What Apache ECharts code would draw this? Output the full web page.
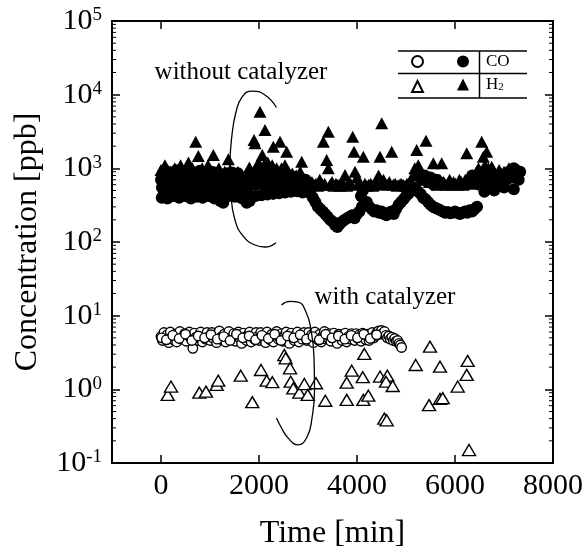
<!DOCTYPE html>
<html>
<head>
<meta charset="utf-8">
<script src="https://cdn.jsdelivr.net/npm/echarts@6/dist/echarts.min.js"></script>
<style>
  html, body { margin: 0; padding: 0; background: #fff; }
  #chart { width: 587px; height: 551px; }
</style>
</head>
<body>
<div id="chart"></div>
<script>
const FONT = 'Liberation Serif';

// x axis ticks / labels
const xTickVals = [0, 2000, 4000, 6000];
const xLabelVals = [0, 2000, 4000, 6000, 8000];

// minor ticks of the log axis
const yMinorVals = [0.2, 0.3, 0.4, 0.5, 0.6, 0.7, 0.8, 0.9,
  2, 3, 4, 5, 6, 7, 8, 9,
  20, 30, 40, 50, 60, 70, 80, 90,
  200, 300, 400, 500, 600, 700, 800, 900,
  2000, 3000, 4000, 5000, 6000, 7000, 8000, 9000,
  20000, 30000, 40000, 50000, 60000, 70000, 80000, 90000];

// CO, without catalyzer (filled circles)  [time min, ppb]
const coWithout = [
  [0,700],[20,550],[40,850],[60,480],[90,650],[110,900],[140,520],[170,750],[200,600],[230,450],
  [260,800],[290,650],[320,520],[350,700],[380,900],[410,600],[440,480],[470,700],[500,550],[530,800],
  [560,620],[590,450],[620,700],[650,580],[680,750],[710,520],[740,650],[770,850],[800,600],[830,700],
  [860,480],[890,620],[920,750],[950,550],[980,680],[1010,820],[1040,600],[1070,700],[1100,520],[1130,650],
  [1160,780],[1190,580],[1220,680],[1250,450],[1280,400],[1310,550],[1340,700],[1370,620],[1400,750],[1430,580],
  [1460,680],[1490,620],[1520,720],[1550,580],[1580,650],[1610,700],[1640,550],[1670,620],[1700,480],[1730,420],
  [1760,380],[1790,450],[1820,600],[1850,700],[1880,650],[1910,750],[1940,600],[1970,680],[2000,800],[2030,650],
  [2060,720],[2090,600],[2120,680],[2150,750],[2180,620],[2210,700],[2240,580],[2270,650],[2300,720],[2330,600],
  [2360,680],[2390,640],[2420,700],[2450,600],[2480,650],[2510,700],[2540,620],[2570,680],[2600,650],[2630,600],
  [2660,640],[2690,620],[2720,660],[2750,600],[2780,640],[2810,580],[2840,620],[2870,600],[2900,560],[2930,600],
  [15,400],[75,950],[130,390],[190,880],[250,420],[310,940],[370,400],[430,870],[490,420],[550,920],
  [610,390],[670,880],[730,410],[790,930],[850,400],[910,860],[970,420],[1030,900],[1090,390],[1150,870],
  [1210,360],[1270,340],[1330,860],[1390,420],[1450,880],[1510,410],[1570,860],[1630,400],[1690,380],[1750,340],
  [1810,360],[1870,850],[1930,420],[1990,880],[2050,430],[2110,860],[2170,440],[2230,840],[2290,450],[2350,820],
  [2410,460],[2470,800],[2530,470],[2590,790],[2650,480],[2710,770],[2770,490],[2830,750],[2890,470],[2950,700],
  [2960,580],[3000,500],[3050,450],[3100,400],[3150,350],[3200,300],[3250,280],[3300,260],[3350,240],[3400,220],
  [3450,200],[3500,190],[3550,170],[3600,160],[3650,175],[3700,190],[3750,200],[3800,210],[3850,220],[3900,230],
  [3950,210],[4000,240],[4050,260],[4080,420],[4100,300],[4120,500],[4150,330],[4200,350],[4250,300],[4300,280],
  [4350,260],[4400,270],[4450,250],[4500,260],[4550,240],[4600,230],[4650,250],[4700,260],[4750,240],[4800,280],
  [4850,320],[4900,350],[4950,380],[5000,420],[5050,450],[5100,500],[5150,550],[5200,520],[5250,480],[5300,450],
  [5350,400],[5400,380],[5450,350],[5500,320],[5550,300],[5600,290],[5650,280],[5700,270],[5750,260],[5800,250],
  [5850,255],[5900,245],[5950,250],[6000,260],[6050,250],[6100,240],[6150,250],[6200,260],[6250,250],[6300,270],
  [6350,260],[6400,280],[6450,300],[5320,700],[5380,800],[5440,650],[5500,750],[5560,600],[5620,700],[5680,650],
  [6300,700],[6350,800],[6420,650],[6500,600],[6550,800],[6600,700],[6650,900],[6700,650],[6750,800],[6800,700],
  [6850,600],[6900,750],[6950,650],[7000,800],[7050,700],[7100,900],[7150,750],[7200,1000],[7250,850],[7300,700],
  [7330,900],[6600,480],[6800,500],[7000,550],[7200,520]
];

// H2, without catalyzer (filled triangles)
const h2Without = [
  [0,950],[40,800],[80,1100],[120,850],[160,700],[200,900],[240,750],[280,1000],[320,850],[360,700],
  [400,1100],[440,800],[480,650],[520,950],[560,1200],[600,800],[640,1000],[680,700],[708,2300],[730,900],
  [762,1470],[800,850],[840,1000],[880,750],[920,900],[960,1100],[1000,800],[1040,700],[1068,1520],[1100,900],
  [1140,750],[1180,1000],[1220,850],[1260,700],[1300,900],[1340,800],[1374,1330],[1410,950],[1450,700],[1490,850],
  [1530,750],[1570,900],[1610,700],[1650,800],[1690,650],[1730,750],[1770,850],[1803,1030],[1840,800],[1870,700],
  [1898,2430],[1918,2190],[1950,900],[1990,1200],[2020,5870],[2050,1000],[2067,1520],[2100,1100],[2122,3310],[2150,900],
  [2180,1200],[2210,1000],[2240,850],[2270,1100],[2292,1970],[2320,900],[2360,1000],[2400,800],[2429,2300],[2460,1000],
  [2500,850],[2530,1100],[2565,1680],[2600,900],[2640,750],[2680,850],[2720,700],[2760,800],[2800,650],[2840,900],
  [2871,1230],[2900,700],[2950,650],[3000,620],[3040,580],[3080,650],[3120,600],[3160,620],[3200,580],[3240,700],
  [3280,600],[3313,2300],[3340,620],[3381,1300],[3415,3140],[3415,1000],[3450,600],[3490,650],[3530,580],[3570,620],
  [3610,600],[3650,580],[3690,620],[3730,600],[3755,810],[3790,580],[3830,600],[3870,620],[3912,2690],[3939,1680],
  [3960,900],[4000,750],[4040,650],[4080,600],[4129,1440],[4160,620],[4200,580],[4240,600],[4280,620],[4320,580],
  [4360,600],[4400,620],[4440,800],[4470,1440],[4504,4080],[4540,700],[4580,620],[4620,600],[4660,650],[4708,1680],
  [4740,600],[4780,620],[4820,580],[4860,600],[4900,620],[4940,600],[4980,580],[5020,620],[5060,600],[5100,650],
  [5140,800],[5180,1000],[5218,1770],[5250,1100],[5280,900],[5320,800],[5360,700],[5408,2370],[5440,750],[5480,650],
  [5520,700],[5558,1170],[5600,650],[5640,600],[5690,700],[5728,1170],[5770,650],[5810,600],[5850,620],[5890,700],
  [5930,600],[5970,650],[6010,620],[6050,600],[6090,700],[6130,650],[6170,600],[6210,700],[6239,1600],[6280,650],
  [6320,620],[6360,700],[6400,800],[6440,900],[6480,1000],[6545,2300],[6578,1440],[6610,1100],[6647,1680],[6680,1000],
  [6749,1050],[6800,900],[6850,800],[6900,950],[6950,850],[7000,900],[7050,800],[7100,1000],[7150,850],[7200,900],
  [7250,800],[7300,950]
];

// CO, with catalyzer (open circles)
const coWith = [
  [0,5.2],[30,4.6],[60,5.9],[95,4.9],[125,5.5],[160,4.3],[190,6.0],[225,5.1],[255,4.7],[290,5.6],
  [320,4.4],[355,5.3],[385,6.1],[420,4.8],[450,5.0],[485,5.7],[515,4.5],[550,5.4],[580,6.0],[615,4.9],
  [650,3.6],[680,5.8],[715,5.1],[745,4.6],[780,5.5],[810,6.0],[845,4.4],[875,5.2],[910,4.8],[940,5.9],
  [975,5.2],[1005,4.6],[1040,5.9],[1070,4.9],[1105,5.5],[1135,4.3],[1170,5.6],[1190,6.2],[1225,5.1],[1255,4.7],
  [1290,5.6],[1320,4.4],[1355,5.3],[1385,6.1],[1420,4.8],[1450,5.0],[1485,5.7],[1515,4.5],[1550,5.4],[1580,6.0],
  [1615,4.9],[1645,4.2],[1680,5.8],[1710,5.1],[1745,4.6],[1775,5.5],[1810,6.0],[1840,4.4],[1875,5.2],[1905,4.8],
  [1940,5.9],[1970,5.2],[2005,4.6],[2035,5.9],[2070,4.9],[2100,5.5],[2135,4.3],[2165,6.0],[2200,5.1],[2230,4.7],
  [2265,5.6],[2295,4.4],[2330,5.3],[2360,6.1],[2395,4.8],[2425,5.0],[2460,5.7],[2490,4.5],[2525,5.4],[2555,6.0],
  [2590,4.9],[2620,4.2],[2655,5.8],[2685,5.1],[2720,4.6],[2750,5.5],[2785,6.0],[2815,4.4],[2850,5.2],[2880,4.8],
  [2915,5.9],[2945,5.2],[2980,4.6],[3010,5.9],[3045,4.9],[3075,5.5],[3110,4.3],[3140,6.0],[3175,5.1],[3205,4.7],
  [3240,5.6],[3270,4.4],[3305,5.3],[3335,6.1],[3370,4.8],[3400,5.0],[3435,5.7],[3465,4.5],[3500,5.4],[3530,5.8],
  [3565,4.9],[3595,4.2],[3630,5.6],[3660,5.1],[3695,4.6],[3725,5.5],[3760,5.8],[3790,4.4],[3825,5.2],[3855,4.8],
  [3890,5.7],[3920,5.2],[3955,4.6],[3985,5.7],[4020,4.9],[4050,5.5],[4085,4.5],[4115,5.8],[4150,5.1],[4180,4.7],
  [4215,5.6],[4245,4.6],[4280,5.3],[4310,5.9],[4345,5.0],[4375,5.4],[4410,5.9],[4440,6.2],[4470,5.6],[4500,6.3],
  [4530,5.8],[4560,6.1],[4590,5.4],[4620,5.0],[4650,5.3],[4680,4.8],[4710,5.1],[4740,4.6],[4770,4.9],[4800,4.5],
  [4830,4.6],[4860,4.2],[4885,4.0],[4910,3.7],
  [15,5.0],[110,4.7],[240,5.4],[370,4.9],[500,5.6],[630,4.6],[760,5.3],[890,5.0],[1020,5.5],[1150,4.8],
  [1280,5.2],[1410,4.6],[1540,5.6],[1670,5.0],[1800,5.3],[1930,4.7],[2060,5.4],[2190,4.9],[2320,5.6],[2450,4.6],
  [2580,5.3],[2710,5.0],[2840,5.5],[2970,4.8],[3100,5.2],[3230,4.7],[3360,5.6],[3490,5.0],[3620,5.3],[3750,4.8],
  [3880,5.4],[4010,5.0],[4140,5.6],[4270,4.9],[4400,5.5]
];

// H2, with catalyzer (open triangles)
const h2With = [
  [137,0.84],[204,1.09],[782,0.90],[918,0.93],[1137,1.15],[1169,1.31],[1627,1.53],[1863,0.67],[2041,1.83],[2157,1.31],
  [2272,1.25],[2517,2.92],[2545,2.64],[2633,1.93],[2647,1.27],[2700,1.03],[2823,0.90],[2925,1.18],[2994,0.84],[3163,1.21],
  [3353,0.70],[3790,0.72],[3790,1.23],[3892,1.79],[4117,1.46],[4129,0.72],[4149,3.02],[4231,0.82],[4470,1.49],[4557,0.40],
  [4606,0.38],[4619,1.53],[4592,1.27],[4729,1.11],[5198,2.14],[5490,3.79],[5470,0.61],[5694,2.03],[5694,0.74],[5749,0.76],
  [6055,1.09],[6239,1.57],[6259,2.43],[6286,0.15]
];

// hand-drawn brackets
const curveWithout = [[2357,6700],[2122,9910],[1857,11200],[1653,9290],[1531,5820],[1449,2840],[1408,1110],
  [1429,434],[1510,199],[1673,121],[1918,91],[2122,85.5],[2347,98]];
const curveWith = [[2459,13.97],[2633,15.6],[2796,15.3],[2959,11.2],[3061,6.4],[3122,2.75],[3133,0.98],
  [3082,0.41],[2980,0.225],[2796,0.176],[2592,0.219],[2449,0.308],[2357,0.408]];

const chart = echarts.init(document.getElementById('chart'));

const axisLine = { show: true, onZero: false, lineStyle: { color: '#000', width: 2 } };
const openStyle = { color: '#fff', borderColor: '#000', borderWidth: 1.4, opacity: 1 };
const solidStyle = { color: '#000', opacity: 1 };

const option = {
  animation: false,
  grid: { left: 112, right: 34, top: 21, bottom: 88, containLabel: false, outerBoundsMode: 'none' },
  xAxis: [
    {
      type: 'value', min: -1000, max: 8000, position: 'bottom',
      axisLine: axisLine,
      axisTick: { inside: true, length: 8, customValues: xTickVals, lineStyle: { color: '#000', width: 1.5 } },
      axisLabel: {
        customValues: xLabelVals, fontSize: 30, fontFamily: FONT, color: '#000', margin: 8,
        formatter: function (v) { return String(v); }
      },
      splitLine: { show: false },
      name: 'Time [min]', nameLocation: 'middle', nameGap: 55,
      nameTextStyle: { fontSize: 32, fontFamily: FONT, color: '#000' }
    },
    {
      type: 'value', min: -1000, max: 8000, position: 'top',
      axisLine: axisLine,
      axisTick: { inside: true, length: 8, customValues: xTickVals, lineStyle: { color: '#000', width: 1.5 } },
      axisLabel: { show: false },
      splitLine: { show: false }
    }
  ],
  yAxis: [
    {
      type: 'log', logBase: 10, min: 0.1, max: 100000, splitNumber: 6,
      axisLine: axisLine,
      axisTick: { inside: true, length: 8, lineStyle: { color: '#000', width: 1.5 } },
      axisLabel: {
        margin: 10,
        formatter: function (v) {
          const e = Math.round(Math.log10(v));
          return '{b|10}{e|' + e + '}';
        },
        rich: {
          b: { fontSize: 30, fontFamily: FONT, color: '#000' },
          e: { fontSize: 19, fontFamily: FONT, color: '#000', verticalAlign: 'top' }
        }
      },
      splitLine: { show: false },
      name: 'Concentration [ppb]', nameLocation: 'middle', nameGap: 68,
      nameTextStyle: { fontSize: 32, fontFamily: FONT, color: '#000' }
    },
    {
      type: 'log', logBase: 10, min: 0.1, max: 100000, splitNumber: 6, position: 'right',
      axisLine: axisLine,
      axisTick: { inside: true, length: 8, lineStyle: { color: '#000', width: 1.5 } },
      axisLabel: { show: false },
      splitLine: { show: false }
    }
  ],
  legend: [
    {
      data: ['CO with catalyzer', 'H2 with catalyzer'],
      orient: 'vertical', left: 411, top: 55, padding: 0,
      itemWidth: 11, itemHeight: 11, itemGap: 12, selectedMode: false,
      formatter: function () { return ''; },
      textStyle: { fontSize: 11, lineHeight: 11 }
    },
    {
      data: ['CO without catalyzer', 'H2 without catalyzer'],
      orient: 'vertical', left: 457, top: 53, padding: 0,
      itemWidth: 12, itemHeight: 12, itemGap: 6, selectedMode: false,
      formatter: function (name) {
        return name.indexOf('CO') === 0 ? '{h|CO}' : '{h|H}{s|2}';
      },
      textStyle: {
        fontSize: 17, fontFamily: FONT, color: '#000', padding: [0, 0, 0, 12],
        rich: {
          h: { fontSize: 17, fontFamily: FONT, color: '#000', lineHeight: 17 },
          s: { fontSize: 11, fontFamily: FONT, color: '#000', lineHeight: 11, verticalAlign: 'bottom' }
        }
      }
    }
  ],
  graphic: [
    { type: 'line', shape: { x1: 398, y1: 51, x2: 527, y2: 51 }, style: { stroke: '#000', lineWidth: 1.5 } },
    { type: 'line', shape: { x1: 398, y1: 73.5, x2: 527, y2: 73.5 }, style: { stroke: '#000', lineWidth: 1.5 } },
    { type: 'line', shape: { x1: 398, y1: 98, x2: 527, y2: 98 }, style: { stroke: '#000', lineWidth: 1.5 } },
    { type: 'line', shape: { x1: 479.5, y1: 51, x2: 479.5, y2: 98 }, style: { stroke: '#000', lineWidth: 1.5 } },
    {
      type: 'text', x: 241, y: 72,
      style: { text: 'without catalyzer', font: '25px "Liberation Serif"', fill: '#000', align: 'center', verticalAlign: 'middle' }
    },
    {
      type: 'text', x: 385, y: 297,
      style: { text: 'with catalyzer', font: '25px "Liberation Serif"', fill: '#000', align: 'center', verticalAlign: 'middle' }
    }
  ],
  series: [
    {
      name: 'minor ticks', type: 'custom', silent: true, clip: false,
      data: yMinorVals.map(function (v) { return [-1000, v]; }),
      encode: { x: 0, y: 1 },
      renderItem: function (params, api) {
        const v = api.value(1);
        const l = api.coord([-1000, v]);
        const r = api.coord([8000, v]);
        return {
          type: 'group',
          children: [
            { type: 'line', shape: { x1: l[0], y1: l[1], x2: l[0] + 4, y2: l[1] }, style: { stroke: '#000', lineWidth: 1 } },
            { type: 'line', shape: { x1: r[0] - 4, y1: r[1], x2: r[0], y2: r[1] }, style: { stroke: '#000', lineWidth: 1 } }
          ]
        };
      }
    },
    {
      name: 'H2 without catalyzer', type: 'scatter', data: h2Without,
      symbol: 'triangle', symbolSize: [13, 12], itemStyle: solidStyle
    },
    {
      name: 'CO without catalyzer', type: 'scatter', data: coWithout,
      symbol: 'circle', symbolSize: 12, itemStyle: solidStyle
    },
    {
      name: 'CO with catalyzer', type: 'scatter', data: coWith,
      symbol: 'circle', symbolSize: 9.5, itemStyle: openStyle
    },
    {
      name: 'H2 with catalyzer', type: 'scatter', data: h2With,
      symbol: 'triangle', symbolSize: [13, 11], itemStyle: openStyle
    },
    {
      name: 'bracket 1', type: 'line', data: curveWithout, smooth: 0.5, symbol: 'none', z: 5,
      lineStyle: { color: '#000', width: 1.3 }, silent: true
    },
    {
      name: 'bracket 2', type: 'line', data: curveWith, smooth: 0.5, symbol: 'none', z: 5,
      lineStyle: { color: '#000', width: 1.3 }, silent: true
    }
  ]
};

chart.setOption(option);
</script>
</body>
</html>
